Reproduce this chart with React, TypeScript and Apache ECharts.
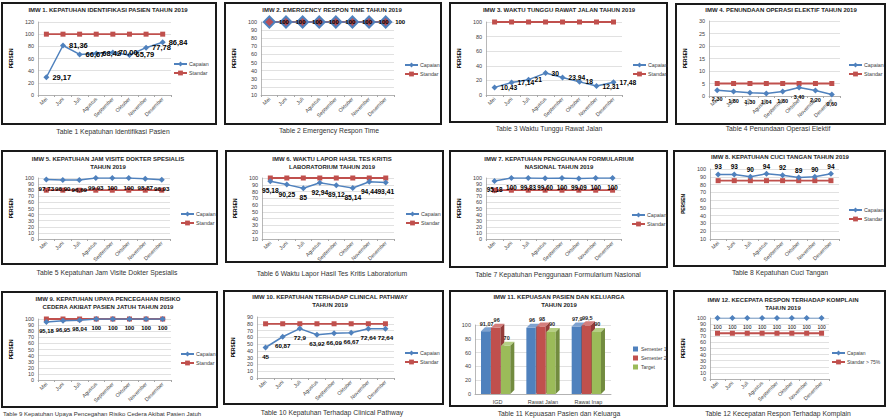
import React, { useEffect, useRef } from 'react';
import * as echarts from 'echarts';

const FONT = "'Liberation Sans', Arial, sans-serif";

const months = ['Mei', 'Juni', 'Juli', 'Agustus', 'September', 'Oktober', 'November', 'Desember'];

const capaian1 = [29.17, 81.36, 66.67, 68.42, 70.0, 65.79, 77.78, 86.84];
const standar1 = [100, 100, 100, 100, 100, 100, 100, 100];
const capaian2 = [100, 100, 100, 100, 100, 100, 100, 100];
const standar2 = [100, 100, 100, 100, 100, 100, 100, 100];
const capaian3 = [10.43, 17.14, 21, 30, 23.94, 18, 12.31, 17.48];
const standar3 = [100, 100, 100, 100, 100, 100, 100, 100];
const capaian4 = [2.3, 1.8, 1.3, 1.04, 1.8, 3.4, 2.2, 0.6];
const standar4 = [5, 5, 5, 5, 5, 5, 5, 5];
const capaian5 = [97.73, 96.9, 96.69, 99.93, 100, 100, 98.87, 96.93];
const standar5 = [80, 80, 80, 80, 80, 80, 80, 80];
const capaian6 = [95.18, 90.25, 85, 92.94, 89.12, 85.14, 94.44, 93.41];
const standar6 = [100, 100, 100, 100, 100, 100, 100, 100];
const capaian7 = [95.18, 100, 99.83, 99.6, 100, 99.09, 100, 100];
const standar7 = [80, 80, 80, 80, 80, 80, 80, 80];
const capaian8 = [93, 93, 90, 94, 92, 89, 90, 94];
const standar8 = [85, 85, 85, 85, 85, 85, 85, 85];
const capaian9 = [95.18, 96.95, 98.04, 100, 100, 100, 100, 100];
const standar9 = [100, 100, 100, 100, 100, 100, 100, 100];
const capaian10 = [45, 60.87, 72.9, 63.92, 66.09, 66.67, 72.64, 72.64];
const standar10 = [80, 80, 80, 80, 80, 80, 80, 80];
const capaian12 = [100, 100, 100, 100, 100, 100, 100, 100];
const standar12 = [75, 75, 75, 75, 75, 75, 75, 75];

const units11 = ['IGD', 'Rawat Jalan', 'Rawat Inap'];
const semester1 = [91.07, 96, 97.9];
const semester2 = [96, 98, 99.5];
const target11 = [70, 90, 90];

function fmtVal(v: number, mode: string) {
  let s: string;
  if (mode === 'fixed2') s = v.toFixed(2);
  else if (mode === 'auto2') s = Number.isInteger(v) ? String(v) : v.toFixed(2);
  else s = String(v);
  return s.replace('.', ',');
}

type Panel = any;

const panels: Panel[] = [
  {
    box: [1, 2, 216, 123], title: ['IMW 1. KEPATUHAN IDENTIFIKASI PASIEN TAHUN 2019'], tx: 108, ty: 10,
    caption: 'Table 1 Kepatuhan Identifikasi Pasien', cx: 113, cy: 131,
    grid: [31, 171, 22, 95], yMin: 0, yMax: 120, yStep: 20, lx: 173, ly: 65, nameGap: 18,
    capaian: capaian1, standar: standar1, pos: 'right', fmt: 'fixed2', ls: 7.5,
  },
  {
    box: [224, 2, 218, 123], title: ['IMW 2. EMERGENCY RESPON TIME TAHUN 2019'], tx: 332, ty: 10,
    caption: 'Table 2 Emergency Respon Time', cx: 329, cy: 130,
    grid: [253, 394, 22, 95], yMin: 10, yMax: 100, yStep: 10, lx: 404, ly: 66, nameGap: 18,
    capaian: capaian2, standar: standar2, pos: 'right', fmt: 'auto2', ls: 6, big: true,
  },
  {
    box: [449, 2, 219, 121], title: ['IMW 3. WAKTU TUNGGU RAWAT JALAN TAHUN 2019'], tx: 559, ty: 10,
    caption: 'Table 3 Waktu Tunggu Rawat Jalan', cx: 549, cy: 128,
    grid: [480, 622, 22, 95], yMin: 0, yMax: 100, yStep: 20, lx: 632, ly: 66, nameGap: 20,
    capaian: capaian3, standar: standar3, pos: 'right', fmt: 'auto2', ls: 6.7,
  },
  {
    box: [675, 3, 211, 122], title: ['IMW 4. PENUNDAAN OPERASI ELEKTIF TAHUN 2019'], tx: 781, ty: 10,
    caption: 'Table 4 Penundaan Operasi Elektif', cx: 778, cy: 128,
    grid: [702, 840, 21, 96], yMin: 0, yMax: 30, yStep: 5, lx: 848, ly: 66, nameGap: 14,
    capaian: capaian4, standar: standar4, pos: 'bottom', fmt: 'fixed2', ls: 5.5,
  },
  {
    box: [1, 150, 217, 115], title: ['IMW 5. KEPATUHAN JAM VISITE DOKTER SPESIALIS', 'TAHUN 2019'], tx: 108, ty: 159,
    caption: 'Table 5 Kepatuhan Jam Visite Dokter Spesialis', cx: 107, cy: 272,
    grid: [30, 170, 178, 239], yMin: 0, yMax: 100, yStep: 10, lx: 180, ly: 215, nameGap: 18,
    capaian: capaian5, standar: standar5, pos: 'bottom', fmt: 'auto2', ls: 6.2,
  },
  {
    box: [225, 150, 219, 113], title: ['IMW 6. WAKTU LAPOR HASIL TES KRITIS', 'LABORATORIUM TAHUN 2019'], tx: 332, ty: 159,
    caption: 'Table 6 Waktu Lapor Hasil Tes Kritis Laboratorium', cx: 332, cy: 273,
    grid: [253, 394, 178, 239], yMin: 10, yMax: 100, yStep: 10, lx: 405, ly: 215, nameGap: 18,
    capaian: capaian6, standar: standar6, pos: 'bottom', fmt: 'auto2', ls: 6.7,
  },
  {
    box: [449, 150, 219, 118], title: ['IMW 7. KEPATUHAN PENGGUNAAN FORMULARIUM', 'NASIONAL TAHUN 2019'], tx: 559, ty: 159,
    caption: 'Table 7 Kepatuhan Penggunaan Formularium Nasional', cx: 558, cy: 274,
    grid: [480, 621, 178, 239], yMin: 0, yMax: 100, yStep: 10, lx: 631, ly: 216, nameGap: 20,
    capaian: capaian7, standar: standar7, pos: 'bottom', fmt: 'auto2', ls: 6.3,
  },
  {
    box: [673, 150, 213, 117], title: ['IMW 8. KEPATUHAN CUCI TANGAN TAHUN 2019'], tx: 780, ty: 157,
    caption: 'Table 8 Kepatuhan Cuci Tangan', cx: 780, cy: 272,
    grid: [705, 839, 169, 239], yMin: 10, yMax: 100, yStep: 10, lx: 848, ly: 211, nameGap: 18,
    capaian: capaian8, standar: standar8, pos: 'top', fmt: 'plain', ls: 6.5,
  },
  {
    box: [1, 291, 217, 117], title: ['IMW 9. KEPATUHAN UPAYA PENCEGAHAN RISIKO', 'CEDERA AKIBAT PASIEN JATUH TAHUN 2019'], tx: 108, ty: 299,
    caption: 'Table 9 Kepatuhan Upaya Pencegahan Risiko Cedera Akibat Pasien Jatuh', cx: 3, cy: 414, capAlign: 'left', capSize: 6,
    grid: [32, 171, 319, 380], yMin: 0, yMax: 100, yStep: 10, lx: 180, ly: 355, nameGap: 18,
    capaian: capaian9, standar: standar9, pos: 'bottom', fmt: 'auto2', ls: 5.8,
  },
  {
    box: [223, 290, 221, 115], title: ['IMW 10. KEPATUHAN TERHADAP CLINICAL PATHWAY', 'TAHUN 2019'], tx: 330, ty: 297,
    caption: 'Table 10 Kepatuhan Terhadap Clinical Pathway', cx: 332, cy: 412,
    grid: [250, 394, 317, 378], yMin: 0, yMax: 90, yStep: 10, lx: 404, ly: 354, nameGap: 18,
    capaian: capaian10, standar: standar10, pos: 'bottom', fmt: 'plain', ls: 6.2,
  },
  {
    box: [449, 290, 219, 117], title: ['IMW 11. KEPUASAN PASIEN DAN KELUARGA', 'TAHUN 2019'], tx: 559, ty: 297,
    caption: 'Table 11 Kepuasan Pasien dan Keluarga', cx: 559, cy: 413,
    grid: [475, 611, 325, 394], yMin: 0, yMax: 100, yStep: 20, lx: 633, ly: 350,
    kind: 'bar3d',
  },
  {
    box: [673, 290, 213, 117], title: ['IMW 12. KECEPATA RESPON TERHADAP KOMPLAIN', 'TAHUN 2019'], tx: 783, ty: 300,
    caption: 'Table 12 Kecepatan Respon Terhadap Komplain', cx: 778, cy: 413,
    grid: [707, 829, 318, 379], yMin: 0, yMax: 100, yStep: 10, lx: 831, ly: 354, nameGap: 18,
    capaian: capaian12, standar: standar12, standarName: 'Standar > 75%', pos: 'bottom', fmt: 'auto2', ls: 5, thin: true, lfs: 5,
  },
];

function frameGraphics(p: Panel) {
  const [bx, by, bw, bh] = p.box;
  const g: any[] = [
    { type: 'rect', shape: { x: 1, y: 1, width: bw - 2, height: bh - 2 }, style: { fill: 'none', stroke: '#1a1a1a', lineWidth: 2 }, silent: true },
  ];
  p.title.forEach((t: string, i: number) => {
    g.push({
      type: 'text', x: p.tx - bx, y: p.ty - by + i * 8,
      style: { text: t, align: 'center', verticalAlign: 'middle', fontSize: 6, fontWeight: 'bold', fontFamily: FONT, fill: '#262626' },
    });
  });
  g.push({
    type: 'text', x: p.cx - bx, y: p.cy - by,
    style: { text: p.caption, align: p.capAlign || 'center', verticalAlign: 'middle', fontSize: p.capSize || 6.8, fontFamily: FONT, fill: '#333333' },
  });
  return g;
}

function commonAxes(p: Panel) {
  const [bx, by] = p.box;
  const [gl, gr, gt, gb] = p.grid;
  return {
    grid: { left: gl - bx, top: gt - by, width: gr - gl, height: gb - gt, containLabel: false },
    yAxis: {
      type: 'value', min: p.yMin, max: p.yMax, interval: p.yStep,
      axisLine: { show: true, lineStyle: { color: '#A6A6A6', width: 0.8 } },
      axisTick: { show: false },
      splitLine: { lineStyle: { color: '#D9D9D9', width: 0.8 } },
      axisLabel: { fontSize: 5.5, color: '#404040', margin: 4, fontFamily: FONT },
      name: p.kind === 'bar3d' ? '' : 'PERSEN', nameLocation: 'middle', nameGap: p.nameGap || 18, nameRotate: 90,
      nameTextStyle: { fontSize: 4.8, fontWeight: 'bold', color: '#000', fontFamily: FONT },
    },
  };
}

function lineOption(p: Panel): any {
  const [bx, by] = p.box;
  const common = commonAxes(p);
  const capaianSeries: any = {
    name: 'Capaian', type: 'line', data: p.capaian, symbol: 'diamond', symbolSize: p.big ? 11 : 6,
    itemStyle: p.big ? { color: '#B5505A', borderColor: '#4F81BD', borderWidth: 2 } : { color: '#4F81BD' },
    lineStyle: { color: '#4F81BD', width: p.thin ? 1 : 1.5 },
    label: {
      show: true, position: p.pos, distance: p.pos === 'top' ? 1 : 3, fontSize: p.ls, fontWeight: p.thin ? 'normal' : 'bold',
      color: '#000', fontFamily: FONT, formatter: (d: any) => fmtVal(d.value, p.fmt),
    },
    z: 3,
  };
  const standarSeries: any = {
    name: p.standarName || 'Standar', type: 'line', data: p.standar, symbol: 'rect', symbolSize: 5,
    itemStyle: { color: '#C0504D' }, lineStyle: { color: '#C0504D', width: 1.8 },
    z: 2,
  };
  return {
    animation: false,
    textStyle: { fontFamily: FONT },
    ...common,
    xAxis: {
      type: 'category', data: months, boundaryGap: true,
      axisLine: { lineStyle: { color: '#A6A6A6', width: 0.8 } },
      axisTick: { show: true, length: 2, lineStyle: { color: '#A6A6A6' } },
      axisLabel: { rotate: 45, fontSize: 5.3, color: '#404040', margin: 3, interval: 0, fontFamily: FONT },
    },
    legend: {
      orient: 'vertical', left: p.lx - bx, top: p.ly - by - 3.5, padding: 0, itemWidth: 13, itemHeight: 6, itemGap: 4,
      textStyle: { fontSize: p.lfs || 5.3, color: '#404040', fontFamily: FONT, padding: [0, 0, 0, -3] },
      data: [
        { name: 'Capaian', itemStyle: { color: '#4F81BD', borderWidth: 0 } },
        { name: p.standarName || 'Standar' },
      ],
    },
    series: [standarSeries, capaianSeries],
    graphic: frameGraphics(p),
  };
}

const bar3dSeries = [
  { name: 'Semester 1', values: semester1, color: '#4F81BD', top: '#7EA2D0', side: '#3A6394' },
  { name: 'Semester 2', values: semester2, color: '#C0504D', top: '#D47E7C', side: '#943C3A' },
  { name: 'Target', values: target11, color: '#9BBB59', top: '#B6CF84', side: '#728B3F' },
];

function bar3dOption(p: Panel): any {
  const [bx, by] = p.box;
  const common = commonAxes(p);
  const bw = 9.3, gap = 0.7, dx = 4, dy = 4;
  return {
    animation: false,
    textStyle: { fontFamily: FONT },
    ...common,
    xAxis: {
      type: 'category', data: units11, boundaryGap: true,
      axisLine: { lineStyle: { color: '#A6A6A6', width: 0.8 } },
      axisTick: { show: false },
      axisLabel: { fontSize: 5.5, color: '#404040', margin: 5, interval: 0, fontFamily: FONT },
    },
    legend: {
      orient: 'vertical', left: p.lx - bx, top: p.ly - by - 3.5, padding: 0, itemWidth: 5, itemHeight: 5, itemGap: 4,
      textStyle: { fontSize: 5, color: '#404040', fontFamily: FONT, padding: [0, 0, 0, -2] },
      data: bar3dSeries.map((s) => ({ name: s.name, icon: 'rect' })),
    },
    series: bar3dSeries.map((s, si) => ({
      type: 'custom', name: s.name, itemStyle: { color: s.color },
      data: s.values.map((v, i) => [i, v]),
      encode: { x: 0, y: 1 },
      renderItem: (params: any, api: any) => {
        const i = api.value(0);
        const v = api.value(1);
        const base = api.coord([i, 0]);
        const top = api.coord([i, v]);
        const x0 = base[0] - 1.5 * bw - gap + si * (bw + gap) - dx / 2;
        const yt = top[1];
        const yb = base[1];
        return {
          type: 'group',
          children: [
            { type: 'rect', shape: { x: x0, y: yt, width: bw, height: yb - yt }, style: { fill: s.color } },
            { type: 'polygon', shape: { points: [[x0, yt], [x0 + dx, yt - dy], [x0 + bw + dx, yt - dy], [x0 + bw, yt]] }, style: { fill: s.top } },
            { type: 'polygon', shape: { points: [[x0 + bw, yt], [x0 + bw + dx, yt - dy], [x0 + bw + dx, yb - dy], [x0 + bw, yb]] }, style: { fill: s.side } },
            {
              type: 'text',
              style: {
                text: fmtVal(v, 'plain'), x: x0 + bw / 2 + 1, y: yt - dy - 0.5, align: 'center', verticalAlign: 'bottom',
                fontSize: 5.5, fontWeight: 'bold', fontFamily: FONT, fill: '#262626',
              },
            },
          ],
        };
      },
    })),
    graphic: frameGraphics(p),
  };
}

function ChartPanel({ p }: { p: Panel }) {
  const ref = useRef<HTMLDivElement>(null);
  const [bx, by, bw, bh] = p.box;
  const height = Math.max(bh, p.cy - by + 6);
  const width = Math.min(bw + 14, 889 - bx);
  useEffect(() => {
    if (!ref.current) return;
    const chart = echarts.init(ref.current, undefined, { renderer: 'svg' });
    chart.setOption(p.kind === 'bar3d' ? bar3dOption(p) : lineOption(p));
    return () => chart.dispose();
  }, []);
  return <div ref={ref} style={{ position: 'absolute', left: bx, top: by, width, height }} />;
}

export default function App() {
  return (
    <div style={{ position: 'absolute', left: 0, top: 0, width: 889, height: 418, background: '#fff', overflow: 'hidden' }}>
      {panels.map((p, i) => (
        <ChartPanel key={i} p={p} />
      ))}
    </div>
  );
}
